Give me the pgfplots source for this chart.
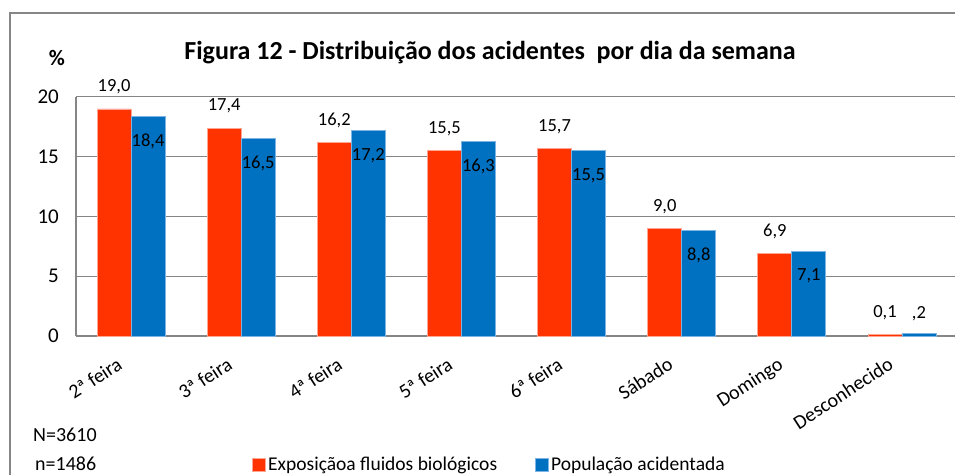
\documentclass[border=0pt]{standalone}
\usepackage{pgfplots}
\pgfplotsset{compat=1.18}
\usepackage{pgfplotstable}
\usepackage{fontspec}
\setmainfont{Carlito}
\definecolor{cred}{RGB}{255,51,0}
\definecolor{cblue}{RGB}{0,112,192}
\definecolor{cgrid}{RGB}{134,134,134}
\definecolor{credge}{RGB}{255,165,145}
\definecolor{cblueedge}{RGB}{125,180,230}

\pgfplotstableread{
x y lab
0 19.0 19,0
1 17.4 17,4
2 16.2 16,2
3 15.5 15,5
4 15.7 15,7
5 9.0 9,0
6 6.9 6,9
7 0.1 0,1
}\redtab

\pgfplotstableread{
x y lab
0 18.4 18,4
1 16.5 16,5
2 17.2 17,2
3 16.3 16,3
4 15.5 15,5
5 8.8 8,8
6 7.1 7,1
7 0.2 {}
}\bluetab

\begin{document}
\begin{tikzpicture}
\useasboundingbox (0pt,0pt) rectangle (955pt,474pt);
\clip (0pt,0pt) rectangle (955pt,474pt);
\draw[cgrid, line width=1.3pt] (10pt,-5pt) -- (10pt,461pt) -- (965pt,461pt);
\node[anchor=base, font=\fontsize{26}{26}\selectfont\bfseries] at (490pt,414pt) {Figura 12 - Distribuição dos acidentes\ \ por dia da semana};
\node[font=\fontsize{22}{22}\selectfont\bfseries] at (57pt,416pt) {\%};
\node[anchor=west, inner sep=0pt, font=\fontsize{20}{20}\selectfont] at (33pt,39pt) {N=3610};
\node[anchor=west, inner sep=0pt, font=\fontsize{20}{20}\selectfont] at (35pt,10pt) {n=1486};
\begin{axis}[
  at={(76pt,138pt)}, anchor=south west,
  scale only axis, width=881pt, height=239pt,
  xmin=-0.5, xmax=7.5, ymin=0, ymax=20,
  ybar=0pt, bar width=34pt,
  ytick={0,5,10,15,20},
  xtick={0,1,2,3,4,5,6,7},
  xticklabels={2ª feira,3ª feira,4ª feira,5ª feira,6ª feira,Sábado,Domingo,Desconhecido},
  /pgf/number format/assume math mode=true,
  axis x line*=bottom, axis y line*=left,
  axis line style={cgrid, line width=1.5pt, -},
  ymajorgrids, grid style={cgrid, line width=1pt},
  major tick length=0pt,
  yticklabel style={font=\fontsize{21}{21}\selectfont, inner sep=0pt, xshift=-17pt},
  xticklabel style={font=\fontsize{20}{20}\selectfont, inner sep=0pt, xshift=-15pt, yshift=-20pt, rotate=33, anchor=north east},
  point meta=explicit symbolic,
  nodes near coords,
  legend style={draw=none, fill=none, legend columns=2, at={(axis description cs:0.2,-0.536)}, anchor=west,
    font=\fontsize{19.5}{19.5}\selectfont, inner sep=0pt,
    /tikz/every even column/.append style={column sep=36pt}},
  legend image code/.code={\fill[#1] (0pt,-7pt) rectangle (13pt,6pt);},
]
\addplot[fill=cred, draw=credge, line width=0.8pt,
  nodes near coords style={font=\fontsize{18.5}{18.5}\selectfont, anchor=center, yshift=22pt}]
  table[x=x, y=y, meta=lab] {\redtab};
\addplot[fill=cblue, draw=cblueedge, line width=0.8pt,
  nodes near coords style={font=\fontsize{18.5}{18.5}\selectfont, anchor=center, yshift=-25pt}]
  table[x=x, y=y, meta=lab] {\bluetab};
\legend{Exposiçãoa fluidos biológicos, População acidentada}
\node[font=\fontsize{18.5}{18.5}\selectfont, anchor=center, xshift=17pt, yshift=20pt] at (axis cs:7,0.2) {,2};
\end{axis}
\end{tikzpicture}
\end{document}
